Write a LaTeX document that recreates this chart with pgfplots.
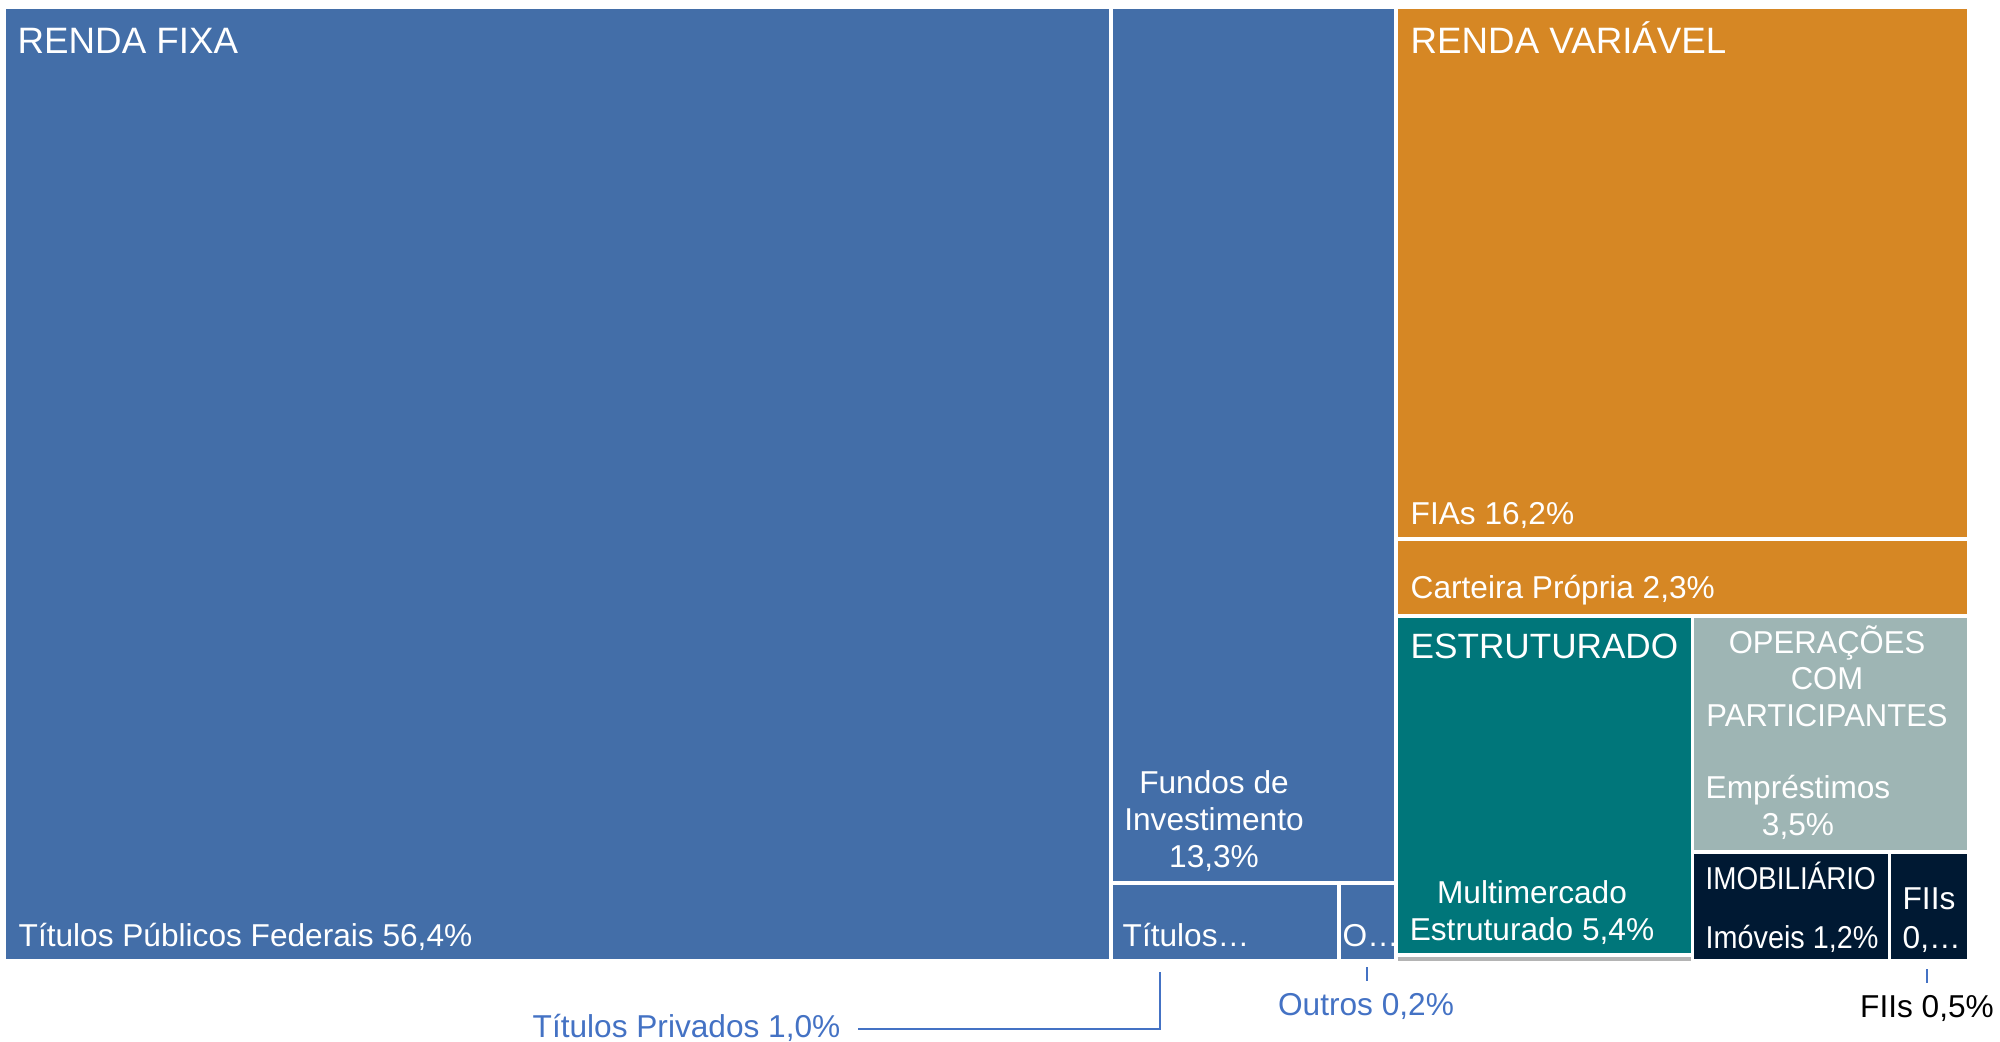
\documentclass[border=0pt]{standalone}
\usepackage{pgfplots}
\pgfplotsset{compat=1.18}
\usepackage{fontspec}
\setmainfont{Liberation Sans}
\definecolor{rfblue}{RGB}{67,110,168}
\definecolor{rvorange}{RGB}{214,135,36}
\definecolor{estteal}{RGB}{0,118,122}
\definecolor{opgray}{RGB}{158,181,180}
\definecolor{imonavy}{RGB}{0,25,51}
\definecolor{stripgray}{RGB}{180,180,180}
\definecolor{callblue}{RGB}{68,114,196}
\tikzset{
  tile/.style={draw=white,line width=0.35mm,line join=miter},
  lbl/.style={text=white,inner sep=0pt,font=\fontsize{9.0}{10.8}\selectfont},
  hdr/.style={text=white,inner sep=0pt,font=\fontsize{10.45}{12.5}\selectfont},
  call/.style={inner sep=0pt,font=\fontsize{9.0}{10.8}\selectfont},
  callline/.style={callblue,line width=0.15mm}
}
\begin{document}
\begin{tikzpicture}
\begin{axis}[width=20cm,height=10.42cm,scale only axis,
  xmin=0,xmax=2000,ymin=0,ymax=1042,y dir=reverse,
  hide axis,clip=false]
\draw[draw=none] (rel axis cs:0,0) rectangle (rel axis cs:1,1);
% RENDA FIXA (70,9%)
\addplot[tile,fill=rfblue] coordinates {(4.5,7.5) (1111,7.5) (1111,961) (4.5,961)} -- cycle;       % Títulos Públicos Federais 56,4
\addplot[tile,fill=rfblue] coordinates {(1111,7.5) (1396,7.5) (1396,883) (1111,883)} -- cycle;     % Fundos de Investimento 13,3
\addplot[tile,fill=rfblue] coordinates {(1111,883) (1339,883) (1339,961) (1111,961)} -- cycle;     % Títulos Privados 1,0
\addplot[tile,fill=rfblue] coordinates {(1339,883) (1396,883) (1396,961) (1339,961)} -- cycle;     % Outros 0,2
% RENDA VARIÁVEL
\addplot[tile,fill=rvorange] coordinates {(1396,7.5) (1968.5,7.5) (1968.5,539) (1396,539)} -- cycle; % FIAs 16,2
\addplot[tile,fill=rvorange] coordinates {(1396,539) (1968.5,539) (1968.5,616) (1396,616)} -- cycle; % Carteira Própria 2,3
% ESTRUTURADO
\addplot[tile,fill=estteal] coordinates {(1396,616) (1692.5,616) (1692.5,955) (1396,955)} -- cycle;  % Multimercado 5,4
\addplot[tile,fill=stripgray] coordinates {(1396,955) (1692.5,955) (1692.5,962.5) (1396,962.5)} -- cycle;
% OPERAÇÕES COM PARTICIPANTES
\addplot[tile,fill=opgray] coordinates {(1692.5,616) (1968.5,616) (1968.5,852) (1692.5,852)} -- cycle; % Empréstimos 3,5
% IMOBILIÁRIO
\addplot[tile,fill=imonavy] coordinates {(1692.5,852) (1889.5,852) (1889.5,961) (1692.5,961)} -- cycle; % Imóveis 1,2
\addplot[tile,fill=imonavy] coordinates {(1889.5,852) (1968.5,852) (1968.5,961) (1889.5,961)} -- cycle; % FIIs 0,5
% callout lines
\addplot[callline] coordinates {(858,1029) (1160,1029) (1160,972)};
\addplot[callline] coordinates {(1367,967) (1367,981)};
\addplot[callline] coordinates {(1927,969) (1927,983)};
% labels
\node[hdr,anchor=base west] at (axis cs:17,53) {RENDA FIXA};
\node[lbl,anchor=base west] at (axis cs:18,946) {Títulos Públicos Federais 56,4\%};
\node[lbl,anchor=base] at (axis cs:1214,793) {Fundos de};
\node[lbl,anchor=base] at (axis cs:1214,830) {Investimento};
\node[lbl,anchor=base] at (axis cs:1214,867) {13,3\%};
\node[lbl,anchor=base west] at (axis cs:1122,946) {Títulos…};
\node[lbl,anchor=base west] at (axis cs:1342,946) {O…};
\node[hdr,anchor=base west] at (axis cs:1410,53) {RENDA VARIÁVEL};
\node[lbl,anchor=base west] at (axis cs:1410,524) {FIAs 16,2\%};
\node[lbl,anchor=base west] at (axis cs:1410,598) {Carteira Própria 2,3\%};
\node[hdr,anchor=base west,font=\fontsize{10.0}{12}\selectfont] at (axis cs:1410,658) {ESTRUTURADO};
\node[lbl,anchor=base] at (axis cs:1532,903) {Multimercado};
\node[lbl,anchor=base] at (axis cs:1532,940) {Estruturado 5,4\%};
\node[lbl,anchor=base,xscale=0.98] at (axis cs:1827,653) {OPERAÇÕES};
\node[lbl,anchor=base,xscale=0.98] at (axis cs:1827,689) {COM};
\node[lbl,anchor=base,xscale=0.98] at (axis cs:1827,726) {PARTICIPANTES};
\node[lbl,anchor=base] at (axis cs:1798,798.5) {Empréstimos};
\node[lbl,anchor=base] at (axis cs:1798,835.5) {3,5\%};
\node[lbl,anchor=base west,xscale=0.88] at (axis cs:1705,889) {IMOBILIÁRIO};
\node[lbl,anchor=base west,xscale=0.91] at (axis cs:1705,948) {Imóveis 1,2\%};
\node[lbl,anchor=base] at (axis cs:1929,909) {FIIs};
\node[lbl,anchor=base west] at (axis cs:1902,948) {0,…};
\node[call,text=callblue,anchor=base west] at (axis cs:532,1037) {Títulos Privados 1,0\%};
\node[call,text=callblue,anchor=base] at (axis cs:1366,1015.5) {Outros 0,2\%};
\node[call,text=black,anchor=base] at (axis cs:1927,1017.5) {FIIs 0,5\%};
\end{axis}
\end{tikzpicture}
\end{document}
